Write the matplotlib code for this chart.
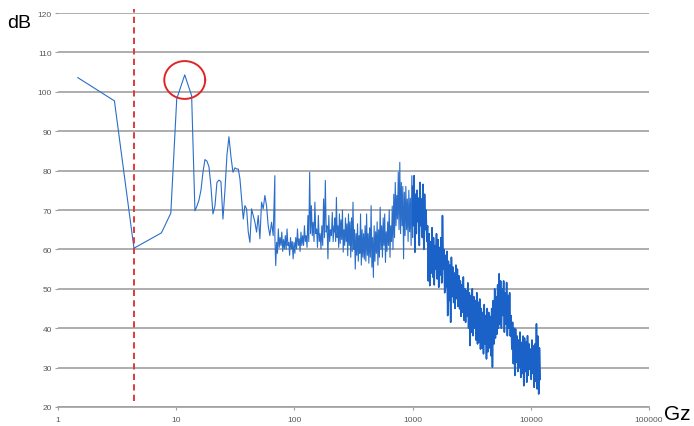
import matplotlib
matplotlib.use('Agg')
import matplotlib.pyplot as plt
import numpy as np

plt.rcParams['font.family'] = ['Liberation Sans', 'DejaVu Sans']

# low-frequency points (Hz, dB) read one by one
low_hz = [1.47, 3.0, 4.39, 7.5, 9.0, 10.1, 11.8, 13.5, 14.4]
low_db = [103.6, 97.7, 60.3, 64.2, 69.2, 98.2, 104.3, 99.0, 69.8]

# bands sampled evenly on the log axis between these edges
band_edges_hz = [14.4, 31.4, 68.3, 220, 1000, 12000]

band_b_db = [69.8, 71, 72.5, 75, 79.5, 82.8, 82.4, 81, 76, 69, 71, 77, 77.6, 77.2,
             67.7, 75, 84, 88.6, 83.5, 79.6, 80.7]

band_c_db = [80.7, 80.4, 80.4, 77.9, 72.8, 67.7, 71.1, 70.3, 64.4, 61.8,
             70.3, 68.6, 66.9, 64.4, 68.6, 62.7, 72.0, 70.3, 73.7, 71.1,
             66.0, 63.5, 66.9, 63.5, 78.7]

# denser bands: per-bin maxima / minima
band_d_hi = [63.5, 61.8, 65.2, 63, 64.4, 62.5, 63.5, 65.2, 61.8, 63,
             62, 61.8, 63, 65.2, 62.7, 64.4, 63.5, 66.0, 63.5, 68.6,
             79.6, 71.1, 66.9, 72.0, 65.2, 68.6, 64, 66.0, 72.8, 77.5,
             66, 68.6, 65, 69.4, 66]
band_d_lo = [55.9, 59, 60.5, 61.0, 59.5, 60.1, 60, 61, 58.5, 60.1,
             57.6, 59, 60.1, 61, 59.5, 61, 61.0, 62, 60.5, 62,
             64, 63.5, 62, 64, 60.5, 62, 60.1, 61, 63, 64.4,
             57.6, 62, 63.5, 62, 64.4]

band_e_hi = [68, 73.2, 66, 69, 67.5, 70, 65, 68, 66.5, 69,
             67, 68, 72, 65, 64, 66.5, 63.5, 69, 65, 64,
             66, 69, 64, 65.5, 71.1, 63, 66, 64.5, 67, 65,
             70.7, 66, 68, 69, 64.5, 67, 70, 66, 71,
             74, 77, 73.7, 79.6, 82.1, 77, 76, 74.5, 76, 72.8, 75, 73, 78.7]
band_e_lo = [62, 63, 60.5, 61.5, 62.5, 59.3, 61, 62, 58.4, 61,
             58, 59.5, 60, 55, 58.5, 57, 59, 56, 58, 57.5,
             57, 58.5, 56.5, 58, 55.5, 52.9, 57, 59, 56, 58,
             60, 58, 61, 56.7, 59.5, 61, 58, 62, 60,
             63, 66, 67.7, 65, 64, 66, 57.6, 63.5, 65, 62, 64.5, 61, 63]

band_f_hi = [76, 78.7, 74, 75, 73, 77, 72.8, 76.5, 74, 70,
             66, 64, 62, 65.5, 63, 61, 64, 62.5, 60.5, 63,
             68.6,
             60, 58.5, 59.5, 57, 56, 58, 55.5, 54, 56, 55,
             53.3, 52, 51, 53, 50, 49.5, 51.5, 49, 48.3, 50, 48, 47, 49,
             46.6, 47.4, 45, 44, 46, 43.2, 45, 44, 43, 45,
             47, 50, 48, 51, 53.8,
             52, 50, 52, 49, 51.6, 48.3, 49,
             43.2, 41.5, 40,
             39.8, 38, 37, 39, 36.4, 38, 37.5, 36.5, 38.1,
             36, 34.7, 37, 35.5, 36, 41.1, 38, 35]
band_f_lo = [66, 59.3, 64, 67, 61, 66, 63, 60, 65, 62,
             52, 50.8, 54, 53, 51, 55, 52.5, 50.4, 53.5, 51.5,
             55,
             49, 50.5, 43.2, 47, 41.5, 48, 46.5, 45, 47.5, 45.5,
             44.9, 43, 44, 42, 41.5, 43, 40, 35.6, 39, 38.1, 40, 37, 36,
             36.4, 34.7, 35, 33.5, 36, 32.2, 34, 35, 33, 30.1,
             36, 37.5, 38.5, 40, 41,
             40, 43.2, 39, 41, 38.1, 40, 38,
             34.7, 31, 28,
             31.3, 29, 30, 27.5, 28.5, 25.4, 29, 26.3, 28,
             29.6, 27, 28.5, 25, 26.5, 24.6, 23.3, 27]

marker_hz = 4.39                 # dashed cut-off marker
peak_hz, peak_db = 11.8, 103.0   # circled resonance

y_ticks = [20, 30, 40, 50, 60, 70, 80, 90, 100, 110, 120]
x_ticks = [1, 10, 100, 1000, 10000, 100000]


def interleave(hi, lo):
    return np.column_stack([hi, lo]).ravel()


# assemble one continuous trace
parts_db = [band_b_db, band_c_db,
            interleave(band_d_hi, band_d_lo),
            interleave(band_e_hi, band_e_lo),
            interleave(band_f_hi, band_f_lo)]
freq = list(low_hz)
level = list(low_db)
for i, vals in enumerate(parts_db):
    f = np.geomspace(band_edges_hz[i], band_edges_hz[i + 1], len(vals))
    freq.extend(f)
    level.extend(vals)

fig = plt.figure(figsize=(6.94, 4.27), dpi=100)
ax = fig.add_axes([0.0836, 0.0445, 0.8516, 0.9227])

ax.plot(freq, level, color='#2a6eca', lw=0.8, zorder=3)
# the high band is packed tight, stroke it a bit heavier
f_top = np.geomspace(band_edges_hz[-2], band_edges_hz[-1], len(parts_db[-1]))
ax.plot(f_top, parts_db[-1], color='#1a62c8', lw=1.15, zorder=3)

ax.set_xscale('log')
ax.set_xlim(1, 100000)
ax.set_ylim(20, 120)
ax.set_yticks(y_ticks)
ax.set_xticks(x_ticks)
ax.set_xticklabels([str(t) for t in x_ticks])
ax.minorticks_off()
ax.yaxis.grid(True, color='#a0a0a0', lw=1.2)
ax.set_axisbelow(True)
for side in ['left', 'right', 'top']:
    ax.spines[side].set_visible(False)
ax.spines['bottom'].set_color('#a0a0a0')
ax.spines['bottom'].set_linewidth(1.2)
ax.tick_params(axis='both', labelsize=6, labelcolor='#595959', color='#a0a0a0',
               length=2.5, width=0.8)
ax.tick_params(axis='y', pad=2)
ax.tick_params(axis='x', pad=4)

# dashed vertical marker
ax.plot([marker_hz, marker_hz], [21.5, 121], color='#e03a3a', lw=1.4,
        ls=(0, (3.2, 2.2)), clip_on=False, zorder=4)

# ellipse around the peak, drawn in log-x space
t = np.linspace(0, 2 * np.pi, 200)
ex = 10 ** (np.log10(peak_hz) + 0.173 * np.cos(t))
ey = peak_db + 4.8 * np.sin(t)
ax.plot(ex, ey, color='#e02525', lw=1.4, zorder=5)

fig.text(0.010, 1 - 28 / 427, 'dB', fontsize=14, va='baseline', ha='left')
fig.text(0.957, 1 - 420 / 427, 'Gz', fontsize=15, va='baseline', ha='left')

fig.savefig('out.png', dpi=100)
